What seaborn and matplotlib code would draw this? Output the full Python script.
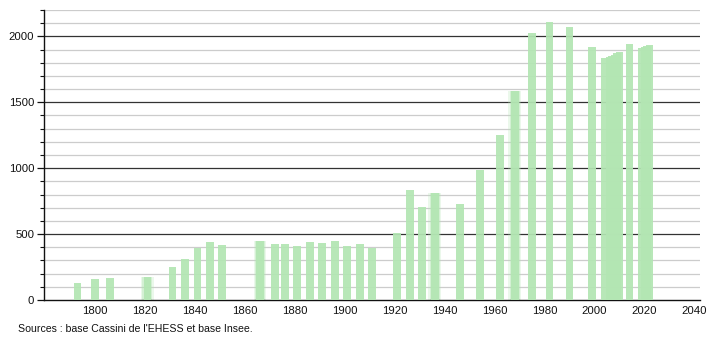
import matplotlib
matplotlib.use("Agg")
import matplotlib.pyplot as plt
import seaborn as sns
import pandas as pd
import numpy as np

years = [1793, 1800, 1806, 1821, 1831, 1836, 1841, 1846, 1851,
         1866, 1872, 1876, 1881, 1886, 1891, 1896, 1901, 1906, 1911,
         1921, 1926, 1931, 1936, 1946, 1954, 1962, 1968, 1975, 1982,
         1990, 1999, 2004, 2006, 2007, 2008, 2009, 2010, 2014,
         2019, 2020, 2021, 2022]
population = [132, 160, 170, 178, 249, 309, 395, 443, 421,
              449, 428, 426, 413, 441, 432, 449, 413, 428, 393,
              512, 836, 705, 814, 725, 989, 1255, 1589, 2023, 2112,
              2071, 1916, 1838, 1840, 1852, 1862, 1873, 1884, 1942,
              1915, 1920, 1927, 1932]
soft_years = [1821, 1866, 1936, 1968]

x_ticks = list(range(1800, 2041, 20))
y_major = [0, 500, 1000, 1500, 2000]
source_text = "Sources : base Cassini de l'EHESS et base Insee."

sns.set_theme(style="white")
plt.rcParams['font.family'] = ['Liberation Sans', 'DejaVu Sans']

df = pd.DataFrame({"year": years, "population": population})
soft = df[df["year"].isin(soft_years)]
soft_step = float(np.min(np.diff(np.sort(soft["year"].unique()))))
main_step = float(np.min(np.diff(np.sort(df["year"].unique()))))

fig = plt.figure(figsize=(7.1, 3.4), dpi=100)
ax = fig.add_axes([44/710, 40/340, 656/710, 290/340])

# soft halo behind some bars
for w, a in [(5.0, 0.25), (4.0, 0.4)]:
    sns.barplot(data=soft, x="year", y="population", native_scale=True,
                width=w / soft_step, color="#b3e6b3", saturation=1, errorbar=None,
                edgecolor="none", linewidth=0, ax=ax, zorder=2, alpha=a)

n_before = len(ax.patches)
sns.barplot(data=df, x="year", y="population", native_scale=True,
            width=3.1 / main_step, color="#b3e6b3", saturation=1, errorbar=None,
            edgecolor="none", linewidth=0, ax=ax, zorder=3)
for p in ax.patches[n_before:]:
    p.set_alpha(0.93)

ax.set_xlim(1779.6, 2042.2)
ax.set_ylim(0, 2200)
ax.set_xticks(x_ticks)
ax.set_xticklabels([str(t) for t in x_ticks])
ax.set_yticks(y_major)
ax.set_yticks(np.arange(0, 2201, 100), minor=True)
ax.set_yticklabels([str(t) for t in y_major])

ax.grid(False)
for v in np.arange(100, 2201, 100):
    if v % 500 == 0:
        ax.axhline(v, color="#333333", lw=0.9, zorder=1)
    else:
        ax.axhline(v, color="#cccccc", lw=0.9, zorder=1)

ax.set_xlabel("")
ax.set_ylabel("")
for s in ["top", "right"]:
    ax.spines[s].set_visible(False)
ax.spines["left"].set_color("#111111")
ax.spines["bottom"].set_color("#111111")
ax.spines["left"].set_linewidth(1)
ax.spines["bottom"].set_linewidth(1)

ax.tick_params(axis="y", which="major", length=5, width=0.9, color="#111111",
               direction="out", labelsize=8.2, pad=2, labelcolor="#111111", left=True)
ax.tick_params(axis="y", which="minor", length=3, width=0.8, color="#111111",
               direction="out", left=True)
ax.tick_params(axis="x", which="both", length=0, labelsize=8.2, pad=4,
               labelcolor="#111111", bottom=False)

fig.text(18/710, 1 - 329/340, source_text, fontsize=7.6, color="#111111",
         ha="left", va="center")

fig.savefig("out.png", dpi=100)
